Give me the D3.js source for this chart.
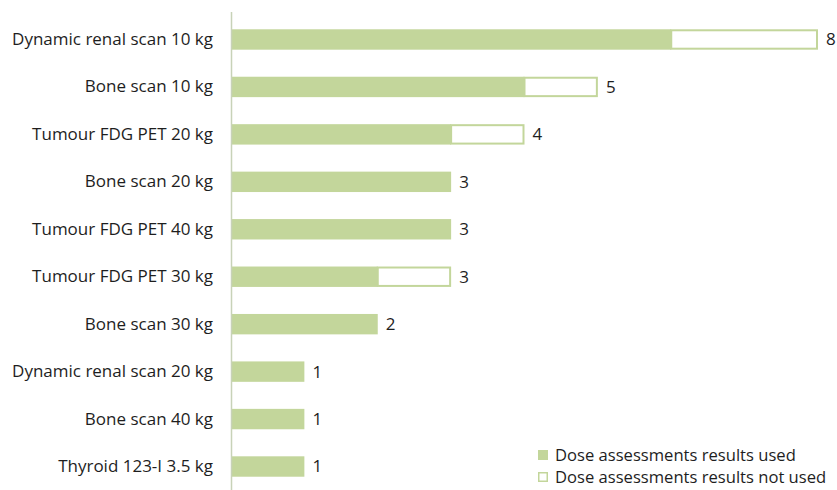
<!DOCTYPE html>
<html>
<head>
<meta charset="utf-8">
<script src="https://cdn.jsdelivr.net/npm/d3@7"></script>
<style>
  html, body { margin: 0; padding: 0; background: #fff; }
  svg { display: block; font-family: "Open Sans", sans-serif; }
</style>
</head>
<body>
<svg id="chart" width="837" height="490"></svg>
<script>
// Examinations, top to bottom
const categories = [
  "Dynamic renal scan 10 kg",
  "Bone scan 10 kg",
  "Tumour FDG PET 20 kg",
  "Bone scan 20 kg",
  "Tumour FDG PET 40 kg",
  "Tumour FDG PET 30 kg",
  "Bone scan 30 kg",
  "Dynamic renal scan 20 kg",
  "Bone scan 40 kg",
  "Thyroid 123-I 3.5 kg"
];
const usedValues    = [6, 4, 3, 3, 3, 2, 2, 1, 1, 1];
const notUsedValues = [2, 1, 1, 0, 0, 1, 0, 0, 0, 0];
const seriesNames = ["Dose assessments results used", "Dose assessments results not used"];

const green = "#c3d69b";
const textColor = "#1e1e1e";
const font = "'Open Sans', sans-serif";
const svg = d3.select("#chart");
const margin = { left: 231, top: 16 };
const plotH = 490 - margin.top;

const x = d3.scaleLinear().domain([0, 8]).range([margin.left, 818]);
const y = d3.scaleBand().domain(categories).range([margin.top, margin.top + plotH]).paddingInner(0.57).paddingOuter(0.28);

const rows = categories.map((c, i) => ({ c, used: usedValues[i], notUsed: notUsedValues[i], total: usedValues[i] + notUsedValues[i] }));

// used segments
svg.append("g").selectAll("rect").data(rows).join("rect")
  .attr("x", x(0))
  .attr("y", d => y(d.c))
  .attr("width", d => x(d.used) - x(0))
  .attr("height", y.bandwidth())
  .attr("fill", green);

// not-used segments: outlined in green
svg.append("g").selectAll("rect").data(rows.filter(d => d.notUsed > 0)).join("rect")
  .attr("x", d => x(d.used))
  .attr("y", d => y(d.c) + 1)
  .attr("width", d => x(d.total) - x(d.used) - 1)
  .attr("height", y.bandwidth() - 2)
  .attr("fill", "#fff")
  .attr("stroke", green)
  .attr("stroke-width", 2);

// category axis
const yAxis = d3.axisLeft(y).tickSize(0).tickPadding(18);
const ga = svg.append("g").attr("transform", `translate(${margin.left},0)`).call(yAxis);
ga.select(".domain").attr("stroke", "#c8d2b8").attr("stroke-width", 1.5).attr("d", `M0.5,${margin.top - 4}V490`);
ga.selectAll("text").attr("font-size", 17).attr("fill", textColor).style("font-family", font);

// totals
svg.append("g").selectAll("text").data(rows).join("text")
  .attr("x", d => x(d.total) + 8)
  .attr("y", d => y(d.c) + y.bandwidth() / 2)
  .attr("dy", "0.35em")
  .attr("font-size", 17)
  .attr("fill", textColor)
  .text(d => d.total);

// legend
const legend = svg.append("g").attr("transform", "translate(538,450)");
seriesNames.forEach((name, i) => {
  const g = legend.append("g").attr("transform", `translate(0,${i * 22})`);
  if (i === 0) {
    g.append("rect").attr("width", 10).attr("height", 10).attr("fill", green);
  } else {
    g.append("rect").attr("x", 0.75).attr("y", 0.75).attr("width", 8.5).attr("height", 8.5)
      .attr("fill", "#fff").attr("stroke", green).attr("stroke-width", 1.5);
  }
  g.append("text").attr("x", 17).attr("y", 5).attr("dy", "0.35em")
    .attr("font-size", 16.6).attr("fill", textColor).text(name);
});
</script>
</body>
</html>
